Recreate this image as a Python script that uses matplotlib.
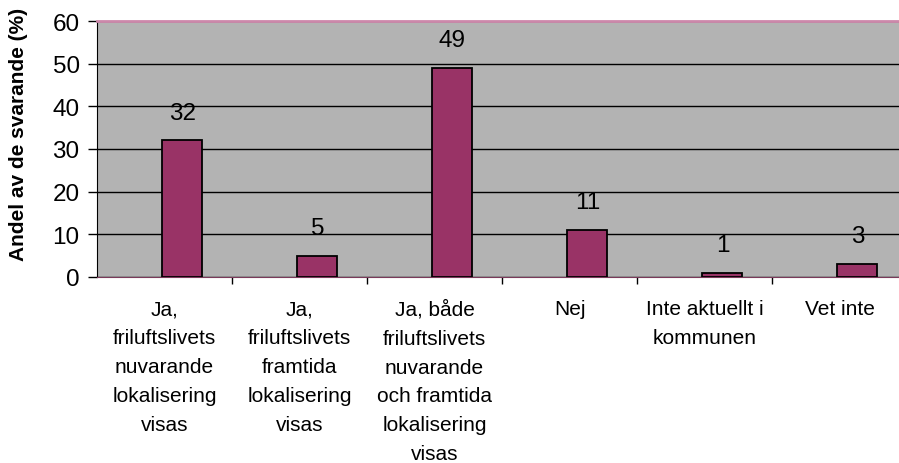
import matplotlib.pyplot as plt

categories = [
    "Ja,\nfriluftslivets\nnuvarande\nlokalisering\nvisas",
    "Ja,\nfriluftslivets\nframtida\nlokalisering\nvisas",
    "Ja, både\nfriluftslivets\nnuvarande\noch framtida\nlokalisering\nvisas",
    "Nej",
    "Inte aktuellt i\nkommunen",
    "Vet inte",
]
values = [32, 5, 49, 11, 1, 3]
yticks = [0, 10, 20, 30, 40, 50, 60]

plt.rcParams["font.family"] = ["Liberation Sans", "DejaVu Sans"]

fig = plt.figure(figsize=(8.99, 4.64), dpi=100)
# plot area runs a little past the right edge, like the original
ax = fig.add_axes([97 / 899, 186 / 464, 810 / 899, 256 / 464])
ax.set_facecolor("#B3B3B3")

x = list(range(len(categories)))
xb = [i + 0.133 for i in x]
ax.bar(xb, values, width=0.296, color="#993366", edgecolor="black",
       linewidth=1.3, zorder=3)

for xi, v in zip(xb, values):
    ax.annotate(str(v), (xi, v), xytext=(0, 20), textcoords="offset points",
                ha="center", va="center", fontsize=17.5, zorder=4)

ax.set_xlim(-0.5, len(categories) - 0.5)
ax.set_ylim(0, 60)
ax.set_yticks(yticks)
ax.tick_params(axis="y", labelsize=17.5, length=6.5, width=1, pad=6, direction="out")
ax.yaxis.grid(True, color="black", linewidth=1, zorder=1)
ax.set_axisbelow(True)

ax.set_xticks(x)
ax.set_xticklabels(categories, fontsize=15, linespacing=1.66)
ax.tick_params(axis="x", which="major", length=0, pad=16)
ax.set_xticks([i - 0.5 for i in range(1, len(categories) + 1)], minor=True)
ax.tick_params(axis="x", which="minor", length=5, width=1, direction="out")

ax.set_ylabel("Andel av de svarande (%)", fontsize=15, fontweight="bold")
ax.yaxis.set_label_coords(-0.085, 0.56)

ax.spines["top"].set_color("#CC88AA")
ax.spines["top"].set_linewidth(2)
ax.spines["left"].set_color("black")
ax.spines["bottom"].set_color("#7A3A5A")
ax.spines["right"].set_visible(False)

fig.savefig("out.png", dpi=100)
